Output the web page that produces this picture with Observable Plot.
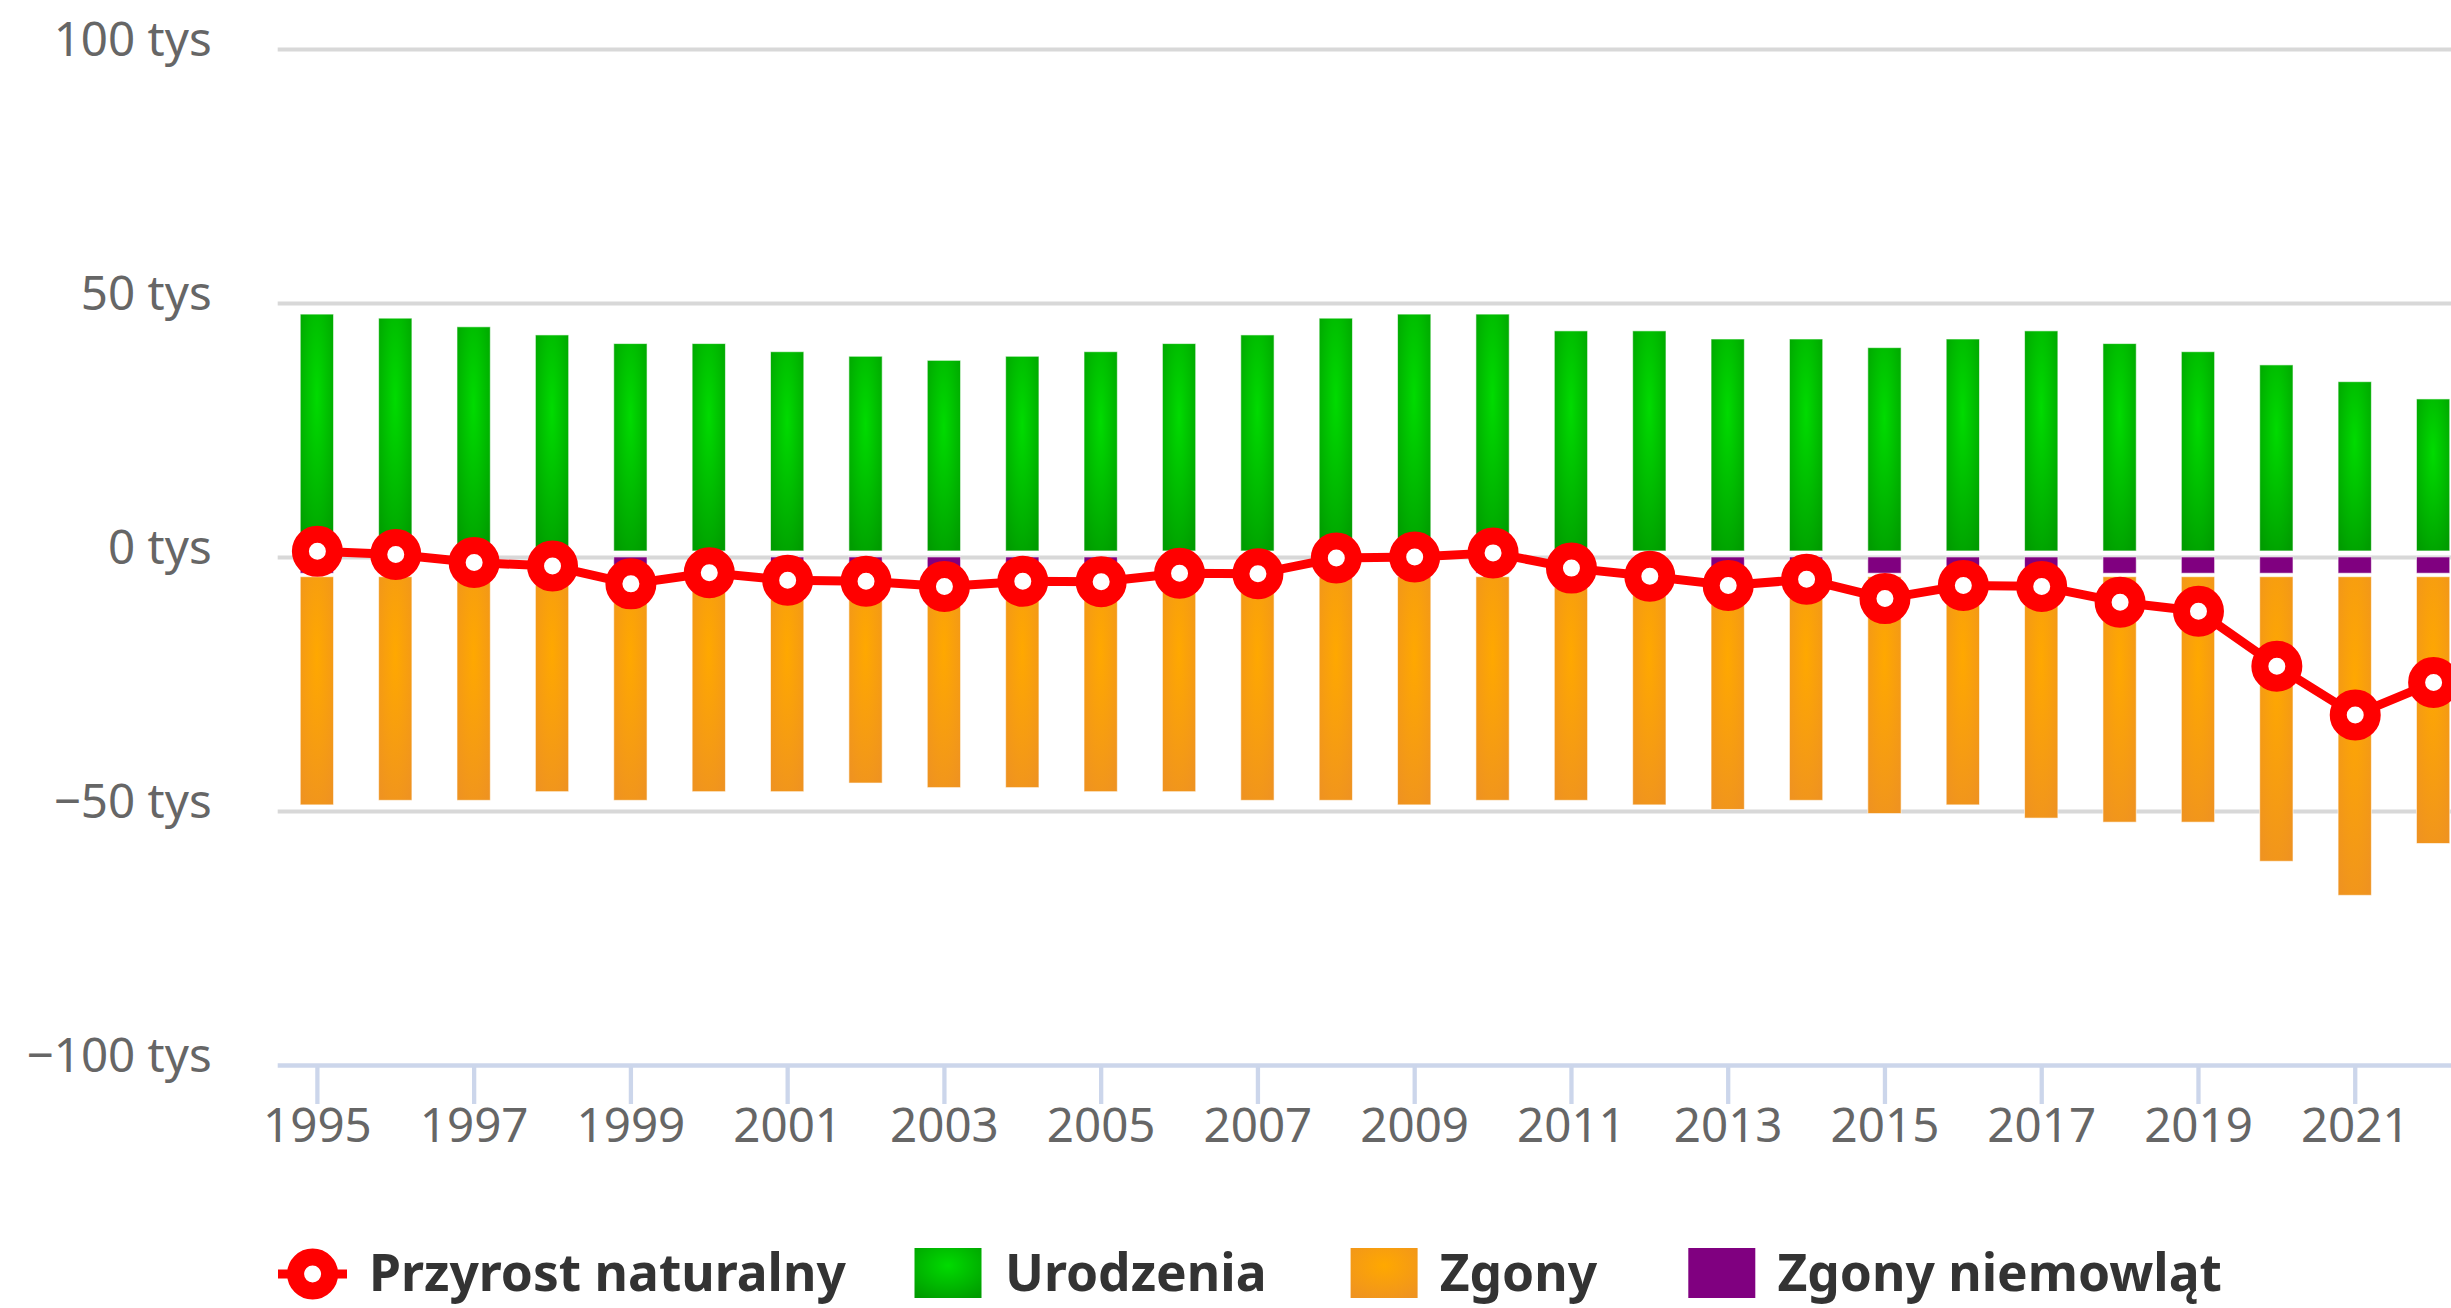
<!DOCTYPE html>
<html>
<head>
<meta charset="utf-8">
<script src="https://cdn.jsdelivr.net/npm/d3@7"></script>
<script src="https://cdn.jsdelivr.net/npm/@observablehq/plot@0.6"></script>
<style>
html, body { margin: 0; padding: 0; background: #fff; overflow: hidden; }
#wrap { position: relative; width: 2451px; height: 1308px; overflow: hidden; }
#chart { position: absolute; left: 0; top: 0; }
#legend { position: absolute; left: 0; top: 1180px; }
</style>
</head>
<body>
<div id="wrap"><div id="chart"></div><div id="legend"></div></div>
<script>
// ---- data (thousands) ----
const years = [1995,1996,1997,1998,1999,2000,2001,2002,2003,2004,2005,2006,2007,2008,2009,2010,2011,2012,2013,2014,2015,2016,2017,2018,2019,2020,2021,2022];
const births = [47.8,47.0,45.3,43.7,42.0,42.0,40.4,39.5,38.7,39.5,40.4,42.0,43.7,47.0,47.8,47.8,44.5,44.5,42.9,42.9,41.2,42.9,44.5,42.0,40.4,37.8,34.5,31.1];
const deaths = [48.8,47.9,47.9,46.2,47.9,46.2,46.2,44.5,45.4,45.4,46.2,46.2,47.9,47.9,48.8,47.9,47.9,48.8,49.7,47.9,50.5,48.8,51.4,52.2,52.2,59.9,66.6,56.4];
const infantDeaths = [3.2,3.2,3.2,3.2,3.2,3.2,3.2,3.2,3.2,3.2,3.2,3.2,3.2,3.2,3.2,3.2,3.2,3.2,3.2,3.2,3.2,3.2,3.2,3.2,3.2,3.2,3.2,3.2];
const naturalIncrease = [1.2,0.6,-1.0,-1.7,-5.2,-3.0,-4.5,-4.7,-5.7,-4.7,-4.8,-3.1,-3.2,-0.1,0.1,0.9,-2.1,-3.7,-5.5,-4.3,-8.1,-5.5,-5.7,-8.8,-10.6,-21.4,-31.0,-24.6];

const yTicks = [-100, -50, 0, 50, 100];
const yTickLabels = ["−100 tys", "−50 tys", "0 tys", "50 tys", "100 tys"];
const xTicks = [1995,1997,1999,2001,2003,2005,2007,2009,2011,2013,2015,2017,2019,2021];

const seriesNames = ["Przyrost naturalny", "Urodzenia", "Zgony", "Zgony niemowląt"];

const rows = years.map((year, i) => ({
  year,
  births: births[i],
  deaths: deaths[i],
  infant: infantDeaths[i],
  ni: naturalIncrease[i]
}));

const FONT = "Noto Sans";

const chart = Plot.plot({
  width: 2451,
  height: 1180,
  marginLeft: 277.7,
  marginRight: 0,
  marginTop: 48.9,
  marginBottom: 115,
  style: { fontFamily: FONT, fontSize: "47.5px", background: "#fff" },
  x: {
    type: "band",
    domain: years,
    range: [277.7, 2472.3],
    paddingInner: 0.575,
    paddingOuter: 0.2875,
    round: false,
    axis: null
  },
  y: { domain: [-100, 100], axis: null },
  marks: [
    Plot.ruleY(yTicks.filter(d => d !== -100), { stroke: "#d8d8d8", strokeWidth: 4 }),
    Plot.barY(rows, { x: "year", y1: 0, y2: "births", fill: "url(#gradGreen)", insetBottom: 6, stroke: "#ffffff", strokeOpacity: 0.6, strokeWidth: 1 }),
    Plot.barY(rows, { x: "year", y1: 0, y2: d => -d.infant, fill: "#800080", stroke: "#ffffff", strokeOpacity: 0.6, strokeWidth: 1 }),
    Plot.barY(rows, { x: "year", y1: d => -d.infant, y2: d => -d.deaths, fill: "url(#gradOrange)", insetTop: 3.5, stroke: "#ffffff", strokeOpacity: 0.6, strokeWidth: 1 }),
    Plot.ruleY([-100], { stroke: "#ccd6eb", strokeWidth: 4.3 }),
    Plot.axisX({
      ticks: xTicks,
      tickSize: 39,
      tickPadding: 4,
      stroke: "#ccd6eb",
      strokeWidth: 4.3,
      fill: "#666666",
      fontSize: 47.5,
      label: null,
      tickFormat: d => String(d)
    }),
    Plot.axisY({
      ticks: yTicks,
      tickSize: 0,
      tickPadding: 66.5,
      dy: -9,
      fill: "#666666",
      fontSize: 47.5,
      label: null,
      tickFormat: d => yTickLabels[yTicks.indexOf(d)]
    }),
    Plot.line(rows, { x: "year", y: "ni", stroke: "#ff0000", strokeWidth: 9, strokeLinejoin: "round" }),
    Plot.dot(rows, { x: "year", y: "ni", r: 17, stroke: "#ff0000", strokeWidth: 17, fill: "#ffffff" })
  ]
});

chart.insertAdjacentHTML("afterbegin", `
<defs>
  <radialGradient id="gradGreen" cx="0.5" cy="0.35" r="0.75">
    <stop offset="0" stop-color="#00db00"/>
    <stop offset="1" stop-color="#009c00"/>
  </radialGradient>
  <radialGradient id="gradOrange" cx="0.5" cy="0.35" r="0.75">
    <stop offset="0" stop-color="#ffa800"/>
    <stop offset="1" stop-color="#ef9320"/>
  </radialGradient>
</defs>`);
document.getElementById("chart").appendChild(chart);

// ---- legend (below the plot) ----
const lg = d3.select("#legend").append("svg")
  .attr("width", 2451).attr("height", 128)
  .style("font-family", FONT).style("font-weight", "bold").style("font-size", "51.5px");

const baseY = 111, midY = 94;
// line series symbol
lg.append("line").attr("x1", 278).attr("x2", 347).attr("y1", midY).attr("y2", midY)
  .attr("stroke", "#ff0000").attr("stroke-width", 9);
lg.append("circle").attr("cx", 312.6).attr("cy", midY).attr("r", 17)
  .attr("stroke", "#ff0000").attr("stroke-width", 17).attr("fill", "#fff");
lg.append("text").attr("x", 369).attr("y", baseY).attr("fill", "#333333").text(seriesNames[0]);

const boxes = [
  { x: 914.5, tx: 1005, fill: "url(#gradGreen)", name: seriesNames[1] },
  { x: 1350.6, tx: 1439.7, fill: "url(#gradOrange)", name: seriesNames[2] },
  { x: 1688.3, tx: 1777.4, fill: "#800080", name: seriesNames[3] }
];
for (const b of boxes) {
  lg.append("rect").attr("x", b.x).attr("y", 68).attr("width", 67).attr("height", 50).attr("fill", b.fill);
  lg.append("text").attr("x", b.tx).attr("y", baseY).attr("fill", "#333333").text(b.name);
}
</script>
</body>
</html>
